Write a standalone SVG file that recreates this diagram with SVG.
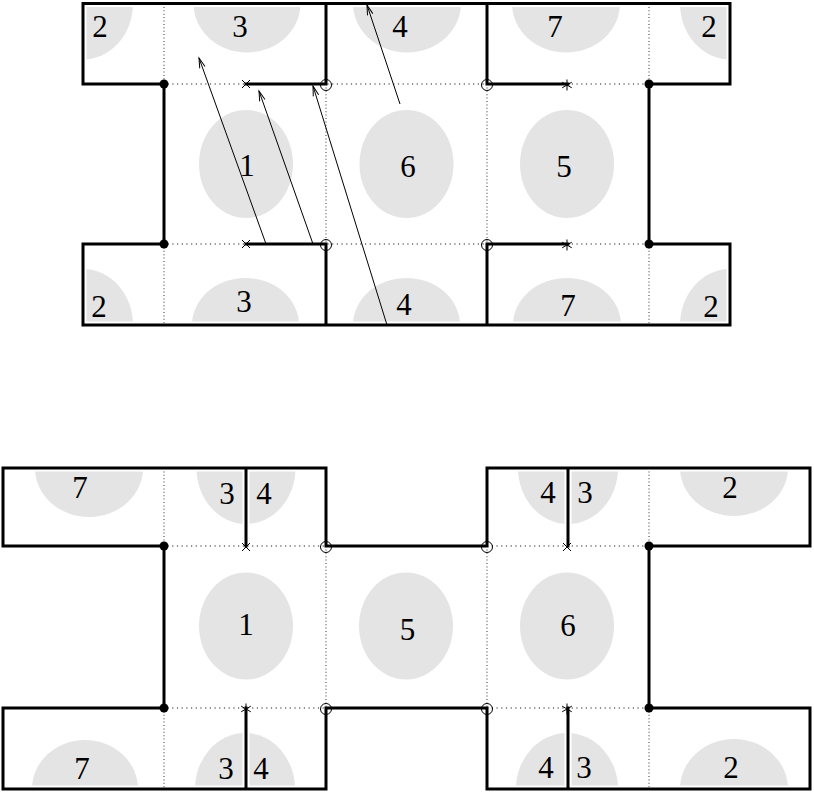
<svg xmlns="http://www.w3.org/2000/svg" width="814" height="793" viewBox="0 0 814 793">
<style>
.g{fill:#e4e4e4;stroke:none}
text{font-family:'Liberation Serif',serif;font-size:31px;fill:#000;text-anchor:middle}
.halo{fill:none;stroke:#fff;stroke-width:7;stroke-linejoin:miter}
.thick{fill:none;stroke:#000;stroke-width:3;stroke-linejoin:miter;stroke-linecap:square}
.dh{fill:none;stroke:#222;stroke-width:1.1;stroke-dasharray:1.2 3.5}
.dv{fill:none;stroke:#444;stroke-width:1.1;stroke-dasharray:1 2.4}
.dot{fill:#000}
.oc{fill:none;stroke:#000;stroke-width:1}
.mk{fill:none;stroke:#000;stroke-width:1}
.arr{fill:none;stroke:#000;stroke-width:1;marker-end:url(#ah)}
</style>
<defs>
<marker id="ah" markerUnits="userSpaceOnUse" markerWidth="14" markerHeight="10" viewBox="-11 -5 12 10" refX="0" refY="0" orient="auto">
<path d="M-10,-2.8 L0,0 L-10,2.8" fill="none" stroke="#000" stroke-width="1"/>
</marker>
<g id="xm"><path d="M-4,-4 L4,4 M-4,4 L4,-4" class="mk"/></g>
<g id="star"><path d="M0,-5.5 V5.5 M-4.8,-2.8 L4.8,2.8 M-4.8,2.8 L4.8,-2.8" class="mk"/></g>
</defs>
<rect width="814" height="793" fill="#fff"/>

<g font-family="Liberation Serif, serif" font-size="31" text-anchor="middle">
<!-- ===== Upper diagram cells ===== -->
<g id="u-top-2a"><path class="g" d="M83,3.5 H133 A50 56 0 0 1 83,59.5 Z"/><text x="100" y="37">2</text></g>
<g id="u-top-3"><path class="g" d="M193.5,3.5 A53.5 49 0 0 0 300.5,3.5 Z"/><text x="240" y="37">3</text></g>
<g id="u-top-4"><path class="g" d="M353,3.5 A54 49 0 0 0 461,3.5 Z"/><text x="400" y="37">4</text></g>
<g id="u-top-7"><path class="g" d="M512,3.5 A54 49 0 0 0 620,3.5 Z"/><text x="555" y="37">7</text></g>
<g id="u-top-2b"><path class="g" d="M730,3.5 V59.5 A50 56 0 0 1 680,3.5 Z"/><text x="709" y="37">2</text></g>
<g id="u-mid-1"><ellipse class="g" cx="246" cy="164" rx="47" ry="54"/><text x="247" y="176">1</text></g>
<g id="u-mid-6"><ellipse class="g" cx="406.5" cy="164" rx="47" ry="54"/><text x="408" y="177">6</text></g>
<g id="u-mid-5"><ellipse class="g" cx="567" cy="164" rx="47" ry="54"/><text x="564" y="177">5</text></g>
<g id="u-bot-2a"><path class="g" d="M83,325 V269 A50 56 0 0 1 133,325 Z"/><text x="99" y="317">2</text></g>
<g id="u-bot-3"><path class="g" d="M192,325 A53.5 47 0 0 1 299,325 Z"/><text x="244" y="312">3</text></g>
<g id="u-bot-4"><path class="g" d="M353,325 A53.5 47 0 0 1 460,325 Z"/><text x="404" y="315">4</text></g>
<g id="u-bot-7"><path class="g" d="M513,325 A54 47 0 0 1 621,325 Z"/><text x="568" y="316">7</text></g>
<g id="u-bot-2b"><path class="g" d="M730,325 H680 A50 56 0 0 1 730,269 Z"/><text x="711" y="317">2</text></g>

<!-- ===== Lower diagram cells ===== -->
<g id="l-top-7"><path class="g" d="M35,468 A54 49 0 0 0 143,468 Z"/><text x="80" y="498">7</text></g>
<g id="l-top-34"><path class="g" d="M196.5,468 A49.5 56 0 0 0 295.5,468 Z"/><text x="227" y="504">3</text><text x="264" y="504">4</text></g>
<g id="l-top-43"><path class="g" d="M518,468 A50 56 0 0 0 618,468 Z"/><text x="548" y="503">4</text><text x="585" y="503">3</text></g>
<g id="l-top-2"><path class="g" d="M680,468 A54 48 0 0 0 788,468 Z"/><text x="730" y="498">2</text></g>
<g id="l-mid-1"><ellipse class="g" cx="246" cy="626" rx="47" ry="53.5"/><text x="246" y="635">1</text></g>
<g id="l-mid-5"><ellipse class="g" cx="406" cy="626" rx="47" ry="53.5"/><text x="407.5" y="640">5</text></g>
<g id="l-mid-6"><ellipse class="g" cx="567" cy="626" rx="47" ry="53.5"/><text x="568" y="636">6</text></g>
<g id="l-bot-7"><path class="g" d="M32,789 A53 49 0 0 1 138,789 Z"/><text x="82" y="779">7</text></g>
<g id="l-bot-34"><path class="g" d="M195,789 A50 56 0 0 1 295,789 Z"/><text x="226" y="779">3</text><text x="261" y="779">4</text></g>
<g id="l-bot-43"><path class="g" d="M516,789 A51 56 0 0 1 618,789 Z"/><text x="546" y="778">4</text><text x="584" y="778">3</text></g>
<g id="l-bot-2"><path class="g" d="M680,789 A54 50 0 0 1 788,789 Z"/><text x="731" y="778">2</text></g>
</g>

<!-- ===== Outlines ===== -->
<g id="outlines">
<path class="halo" d="M164,84 H83 V3.5 H730 V84 H649 V244 H730 V325 H83 V244 H164 Z M246,84 H326 V3.5 M487,3.5 V84 H568 M246,244 H326 V325 M487,325 V244 H568"/>
<path class="halo" d="M164,546 H3 V468 H326 V546 H487 V468 H810 V546 H649 V708 H810 V789 H487 V708 H326 V789 H3 V708 H164 Z M246,468 V546 M568,468 V546 M246,708 V789 M568,708 V789"/>
<path class="dh" d="M83,84 H730 M83,244 H730 M3,546 H810 M3,708 H810"/>
<path class="dv" d="M164,3.5 V84 M164,244 V325 M649,3.5 V84 M649,244 V325 M326,84 V244 M487,84 V244 M164,468 V546 M164,708 V789 M649,468 V546 M649,708 V789 M326,546 V708 M487,546 V708"/>
<path class="thick" d="M164,84 H83 V3.5 H730 V84 H649 V244 H730 V325 H83 V244 H164 Z M246,84 H326 V3.5 M487,3.5 V84 H568 M246,244 H326 V325 M487,325 V244 H568"/>
<path class="thick" d="M164,546 H3 V468 H326 V546 H487 V468 H810 V546 H649 V708 H810 V789 H487 V708 H326 V789 H3 V708 H164 Z M246,468 V546 M568,468 V546 M246,708 V789 M568,708 V789"/>
</g>

<!-- ===== Vertex markers ===== -->
<g id="markers">
<circle class="dot" cx="164" cy="84" r="4.5"/><circle class="dot" cx="649" cy="84" r="4.5"/>
<circle class="dot" cx="164" cy="244" r="4.5"/><circle class="dot" cx="649" cy="244" r="4.5"/>
<circle class="oc" cx="326" cy="85" r="5.5"/><circle class="oc" cx="487" cy="85" r="5.5"/>
<circle class="oc" cx="326" cy="245" r="5.5"/><circle class="oc" cx="487" cy="245" r="5.5"/>
<use href="#xm" x="246" y="84"/><use href="#xm" x="246" y="244"/>
<use href="#star" x="567" y="85"/><use href="#star" x="567" y="245"/>
<circle class="dot" cx="164" cy="546" r="4.5"/><circle class="dot" cx="649" cy="546" r="4.5"/>
<circle class="dot" cx="164" cy="708" r="4.5"/><circle class="dot" cx="649" cy="708" r="4.5"/>
<circle class="oc" cx="326" cy="547" r="5.5"/><circle class="oc" cx="487" cy="547" r="5.5"/>
<circle class="oc" cx="326" cy="709" r="5.5"/><circle class="oc" cx="487" cy="709" r="5.5"/>
<use href="#xm" x="246" y="547"/><use href="#xm" x="567" y="547"/>
<use href="#star" x="246" y="709"/><use href="#star" x="567" y="709"/>
</g>

<!-- ===== Connectors ===== -->
<g id="connectors">
<path class="arr" d="M266,244 L199,58"/>
<path class="arr" d="M313,244 L259,91"/>
<path class="arr" d="M387,325 L313,86"/>
<path class="arr" d="M400,104 L367,5"/>
</g>
</svg>
